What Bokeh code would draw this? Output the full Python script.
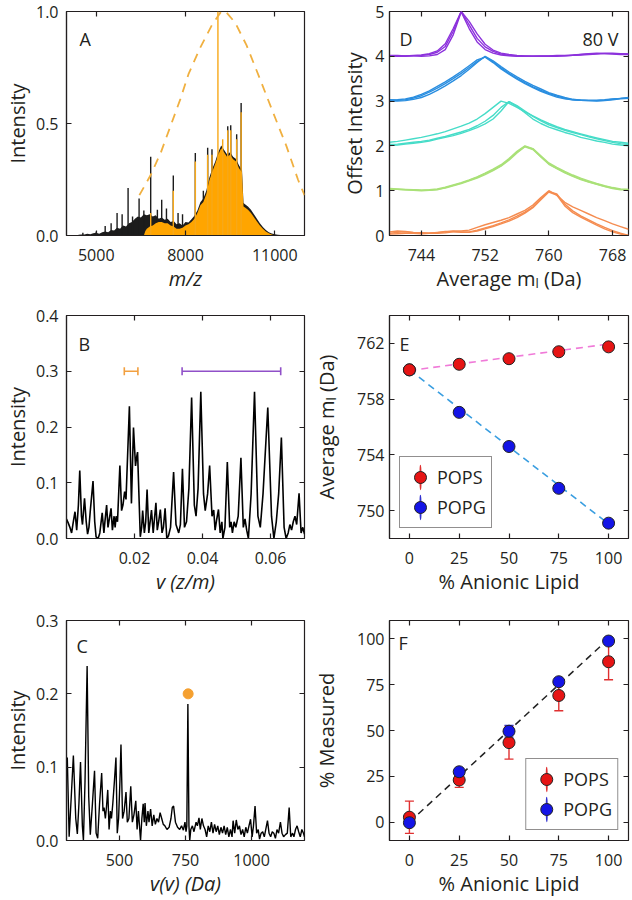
import numpy as np
from bokeh.plotting import figure
from bokeh.layouts import column, row
from bokeh.models import (Range1d, FixedTicker, LinearAxis, Label, Legend, LegendItem,
                          ColumnDataSource, Whisker, TeeHead, CustomJSTickFormatter,
                          PrintfTickFormatter)
from bokeh.embed import file_html
from bokeh.resources import INLINE

FONT = "Open Sans"
TXT = "#231f20"

# ---------------- Panel A: mass spectrum ----------------
a_cont_x = [4400, 4500, 4600, 4700, 4800, 4900, 5000, 5100, 5200, 5300,
            5400, 5500, 5600, 5700, 5800, 5900, 6000, 6100, 6200, 6300,
            6400, 6500, 6600, 6700, 6800, 6900, 7000, 7100, 7200, 7300,
            7400, 7500, 7600, 7700, 7800, 7900, 8000, 8100, 8200, 8300,
            8400, 8500, 8600, 8700, 8800, 8900, 9000, 9100, 9200, 9300,
            9400, 9500, 9600, 9700, 9800, 9900, 9950, 10000, 10100, 10200,
            10300, 10400, 10500, 10600, 10700, 10800, 10900, 11000, 11100, 11200,
            11300]
a_cont_y = [0.003, 0.005, 0.004, 0.008, 0.006, 0.010, 0.012, 0.008, 0.014, 0.018,
            0.015, 0.025, 0.022, 0.035, 0.030, 0.045, 0.040, 0.055, 0.060, 0.075,
            0.085, 0.080, 0.095, 0.090, 0.095, 0.085, 0.090, 0.075, 0.080, 0.070,
            0.075, 0.060, 0.065, 0.050, 0.055, 0.045, 0.060, 0.058, 0.072, 0.088,
            0.112, 0.148, 0.165, 0.200, 0.258, 0.298, 0.330, 0.372, 0.402, 0.382,
            0.362, 0.372, 0.352, 0.342, 0.312, 0.292, 0.145, 0.140, 0.130, 0.115,
            0.095, 0.075, 0.055, 0.038, 0.025, 0.015, 0.009, 0.006, 0.003, 0.002,
            0.001]
a_fill_x = [6600, 6650, 6700, 6800, 6900, 7000, 7100, 7200, 7300, 7400,
            7500, 7600, 7700, 7800, 7900, 8000, 8100, 8200, 8300, 8400,
            8500, 8600, 8700, 8800, 8900, 9000, 9100, 9200, 9300, 9400,
            9500, 9600, 9700, 9800, 9900, 9950, 10000, 10100, 10200, 10300,
            10400, 10500, 10600, 10700, 10800, 10900, 11000]
a_fill_y = [0.000, 0.020, 0.030, 0.040, 0.045, 0.055, 0.060, 0.060, 0.055, 0.055,
            0.045, 0.040, 0.030, 0.030, 0.035, 0.045, 0.050, 0.060, 0.075, 0.100,
            0.135, 0.150, 0.185, 0.245, 0.285, 0.320, 0.360, 0.390, 0.370, 0.350,
            0.360, 0.340, 0.330, 0.300, 0.280, 0.130, 0.125, 0.115, 0.100, 0.082,
            0.062, 0.045, 0.030, 0.018, 0.010, 0.005, 0.000]
a_spk_x = [4550, 5000, 5300, 5500, 5700, 5870, 6070, 6220, 6440, 6600,
           6830, 7055, 7200, 7360, 7590, 7750, 7900, 8330, 8600, 8745,
           8890, 9420, 9520, 9720, 9870]
a_spk_y = [0.012, 0.018, 0.042, 0.055, 0.100, 0.095, 0.212, 0.085, 0.165, 0.112,
           0.352, 0.115, 0.160, 0.120, 0.268, 0.100, 0.095, 0.368, 0.200, 0.392,
           0.385, 0.488, 0.492, 0.452, 0.592]
a_ospk_x = [6830, 7590, 8330, 8745, 8890, 9090, 9250, 9420, 9520, 9720, 9870]
a_ospk_y = [0.10, 0.20, 0.33, 0.36, 0.36, 1.00, 0.43, 0.47, 0.47, 0.43, 0.55]
a_env_x = [6450, 6830, 7170, 7500, 7830, 8100, 8500, 8890, 9200, 9350,
           9670, 10050, 10500, 10940, 11390, 11780, 12000]
a_env_y = [0.18, 0.27, 0.37, 0.49, 0.61, 0.72, 0.84, 0.94, 1.00, 1.00,
           0.95, 0.85, 0.70, 0.55, 0.40, 0.25, 0.18]

# ---------------- Panel B: Fourier spectrum ----------------
b_nu = [0.0000, 0.0005, 0.0010, 0.0015, 0.0020, 0.0025, 0.0030, 0.0035, 0.0039, 0.0044,
        0.0047, 0.0053, 0.0058, 0.0062, 0.0066, 0.0070, 0.0078, 0.0083, 0.0087, 0.0093,
        0.0098, 0.0105, 0.0110, 0.0113, 0.0118, 0.0122, 0.0126, 0.0131, 0.0135, 0.0140,
        0.0143, 0.0146, 0.0150, 0.0157, 0.0162, 0.0166, 0.0171, 0.0175, 0.0185, 0.0191,
        0.0197, 0.0203, 0.0206, 0.0209, 0.0217, 0.0221, 0.0224, 0.0229, 0.0233, 0.0237,
        0.0242, 0.0246, 0.0250, 0.0255, 0.0258, 0.0263, 0.0267, 0.0271, 0.0276, 0.0281,
        0.0285, 0.0290, 0.0295, 0.0300, 0.0306, 0.0315, 0.0322, 0.0330, 0.0335, 0.0341,
        0.0347, 0.0353, 0.0360, 0.0368, 0.0376, 0.0381, 0.0387, 0.0395, 0.0403, 0.0408,
        0.0415, 0.0421, 0.0428, 0.0433, 0.0437, 0.0442, 0.0447, 0.0452, 0.0457, 0.0460,
        0.0466, 0.0473, 0.0480, 0.0484, 0.0488, 0.0493, 0.0498, 0.0505, 0.0513, 0.0520,
        0.0525, 0.0530, 0.0535, 0.0543, 0.0553, 0.0563, 0.0570, 0.0578, 0.0592, 0.0603,
        0.0610, 0.0617, 0.0624, 0.0632, 0.0640, 0.0646, 0.0652, 0.0657, 0.0662, 0.0667,
        0.0672, 0.0677, 0.0684, 0.0690, 0.0695, 0.0700]
b_int = [0.035, 0.028, 0.020, 0.010, 0.030, 0.048, 0.015, 0.060, 0.122, 0.040,
         0.025, 0.072, 0.030, 0.008, 0.020, 0.050, 0.103, 0.030, 0.003, 0.000,
         0.010, 0.046, 0.010, 0.030, 0.060, 0.020, 0.035, 0.054, 0.015, 0.040,
         0.020, 0.040, 0.030, 0.131, 0.050, 0.060, 0.084, 0.070, 0.237, 0.063,
         0.199, 0.130, 0.145, 0.155, 0.003, 0.020, 0.050, 0.010, 0.030, 0.088,
         0.010, 0.030, 0.051, 0.010, 0.030, 0.064, 0.015, 0.030, 0.052, 0.010,
         0.020, 0.054, 0.000, 0.005, 0.020, 0.119, 0.025, 0.010, 0.025, 0.125,
         0.020, 0.030, 0.090, 0.253, 0.060, 0.040, 0.090, 0.263, 0.080, 0.050,
         0.080, 0.131, 0.040, 0.051, 0.015, 0.035, 0.052, 0.010, 0.030, 0.000,
         0.020, 0.137, 0.020, 0.030, 0.010, 0.030, 0.020, 0.040, 0.145, 0.020,
         0.035, 0.015, 0.000, 0.080, 0.263, 0.040, 0.020, 0.080, 0.235, 0.040,
         0.000, 0.030, 0.080, 0.181, 0.020, 0.000, 0.010, 0.025, 0.015, 0.030,
         0.040, 0.025, 0.081, 0.010, 0.020, 0.008]
b_bar_lo = [0.017, 0.034]
b_bar_hi = [0.021, 0.063]
b_bar_y = [0.3, 0.3]
b_bar_colors = ["#f2a040", "#9050c8"]

# ---------------- Panel C: mass-defect spectrum ----------------
c_mass = [300, 303, 310, 318, 326, 335, 341, 347, 353, 360,
          364, 370, 378, 384, 390, 398, 406, 412, 418, 425,
          433, 438, 442, 447, 451, 456, 461, 466, 470, 475,
          481, 487, 492, 497, 502, 506, 512, 518, 525, 530,
          536, 543, 549, 555, 562, 567, 572, 576, 580, 585,
          590, 594, 597, 602, 608, 612, 618, 624, 630, 636,
          642, 648, 654, 660, 666, 672, 680, 688, 695, 700,
          705, 712, 720, 728, 735, 742, 748, 752, 755, 759,
          763, 766, 770, 776, 782, 790, 795, 801, 806, 812,
          818, 824, 830, 836, 842, 848, 854, 860, 866, 872,
          878, 884, 890, 896, 902, 908, 914, 920, 926, 930,
          936, 942, 948, 954, 960, 966, 972, 978, 984, 990,
          996, 1002, 1007, 1013, 1019, 1025, 1030, 1036, 1042, 1048,
          1055, 1060, 1066, 1072, 1078, 1084, 1090, 1096, 1102, 1109,
          1115, 1121, 1128, 1135, 1142, 1148, 1155, 1160, 1166, 1172,
          1178, 1184, 1190, 1196, 1200]
c_int = [0.105, 0.113, 0.005, 0.060, 0.116, 0.030, 0.009, 0.050, 0.107, 0.020,
         0.000, 0.080, 0.238, 0.060, 0.008, 0.050, 0.095, 0.010, 0.003, 0.050,
         0.092, 0.040, 0.045, 0.030, 0.045, 0.069, 0.015, 0.040, 0.030, 0.050,
         0.080, 0.113, 0.010, 0.030, 0.080, 0.131, 0.030, 0.040, 0.066, 0.025,
         0.030, 0.074, 0.025, 0.035, 0.054, 0.015, 0.040, 0.020, 0.000, 0.030,
         0.050, 0.025, 0.051, 0.020, 0.040, 0.025, 0.043, 0.020, 0.035, 0.022,
         0.030, 0.025, 0.038, 0.030, 0.022, 0.020, 0.015, 0.018, 0.030, 0.045,
         0.047, 0.025, 0.018, 0.015, 0.020, 0.014, 0.025, 0.012, 0.020, 0.186,
         0.020, 0.000, 0.015, 0.020, 0.012, 0.025, 0.020, 0.031, 0.015, 0.030,
         0.020, 0.015, 0.005, 0.020, 0.012, 0.025, 0.010, 0.022, 0.012, 0.020,
         0.008, 0.018, 0.010, 0.020, 0.008, 0.018, 0.005, 0.015, 0.005, 0.027,
         0.010, 0.028, 0.015, 0.020, 0.008, 0.015, 0.005, 0.018, 0.010, 0.020,
         0.029, 0.005, 0.020, 0.047, 0.010, 0.015, 0.002, 0.010, 0.012, 0.005,
         0.018, 0.027, 0.010, 0.005, 0.012, 0.010, 0.003, 0.015, 0.010, 0.025,
         0.010, 0.005, 0.008, 0.010, 0.045, 0.005, 0.010, 0.005, 0.015, 0.020,
         0.012, 0.005, 0.015, 0.010, 0.005]
c_mark_x = [760]
c_mark_y = [0.2]

# ---------------- Panel D: lipid mass distributions ----------------
d_mass = list(range(740, 771))
d_offsets = [0, 1, 2, 3, 4]
d_colors = ["#f58c50", "#aae178", "#46dcc8", "#2a8ee0", "#8c32dc"]
d_orange = [
    [0.05, 0.07, 0.08, 0.06, 0.05, 0.05, 0.06, 0.08, 0.10, 0.10, 0.12,
     0.18, 0.24, 0.29, 0.34, 0.40, 0.48, 0.56, 0.68, 0.85, 1.00,
     0.90, 0.74, 0.64, 0.56, 0.48, 0.40, 0.33, 0.26, 0.20, 0.14],
    [0.08, 0.10, 0.09, 0.07, 0.06, 0.05, 0.05, 0.06, 0.08, 0.08, 0.08,
     0.12, 0.17, 0.22, 0.28, 0.35, 0.43, 0.52, 0.64, 0.82, 0.98,
     0.93, 0.70, 0.55, 0.44, 0.35, 0.26, 0.18, 0.11, 0.05, 0.00],
    [0.03, 0.04, 0.05, 0.05, 0.04, 0.05, 0.07, 0.09, 0.09, 0.07, 0.07,
     0.10, 0.15, 0.20, 0.26, 0.32, 0.40, 0.50, 0.62, 0.80, 0.97,
     0.90, 0.66, 0.51, 0.41, 0.32, 0.23, 0.15, 0.08, 0.03, 0.00]]
d_green = [
    [0.04, 0.03, 0.02, 0.01, 0.00, 0.01, 0.02, 0.07, 0.12, 0.17, 0.23,
     0.30, 0.38, 0.46, 0.56, 0.70, 0.86, 0.99, 0.93, 0.76, 0.60,
     0.50, 0.41, 0.33, 0.26, 0.20, 0.15, 0.10, 0.06, 0.03, 0.02],
    [0.05, 0.04, 0.03, 0.02, 0.01, 0.02, 0.04, 0.08, 0.13, 0.18, 0.24,
     0.31, 0.39, 0.48, 0.58, 0.72, 0.88, 1.00, 0.94, 0.78, 0.62,
     0.52, 0.43, 0.35, 0.28, 0.22, 0.16, 0.11, 0.07, 0.04, 0.03],
    [0.03, 0.03, 0.02, 0.02, 0.01, 0.01, 0.03, 0.06, 0.11, 0.16, 0.22,
     0.28, 0.36, 0.45, 0.55, 0.68, 0.84, 0.98, 0.92, 0.75, 0.59,
     0.49, 0.40, 0.32, 0.25, 0.19, 0.14, 0.09, 0.05, 0.02, 0.03]]
d_turq = [
    [0.08, 0.10, 0.13, 0.16, 0.19, 0.23, 0.27, 0.32, 0.38, 0.44, 0.51,
     0.60, 0.72, 0.86, 1.00, 0.95, 0.86, 0.76, 0.67, 0.58, 0.50,
     0.43, 0.37, 0.32, 0.27, 0.22, 0.18, 0.14, 0.10, 0.08, 0.06],
    [0.01, 0.02, 0.04, 0.06, 0.08, 0.11, 0.15, 0.19, 0.23, 0.28, 0.34,
     0.41, 0.49, 0.60, 0.78, 0.99, 0.88, 0.74, 0.60, 0.50, 0.42,
     0.36, 0.30, 0.25, 0.19, 0.15, 0.11, 0.08, 0.04, 0.02, 0.00],
    [0.03, 0.04, 0.06, 0.08, 0.10, 0.13, 0.17, 0.21, 0.26, 0.31, 0.37,
     0.45, 0.55, 0.68, 0.86, 0.99, 0.90, 0.78, 0.66, 0.56, 0.47,
     0.41, 0.35, 0.30, 0.25, 0.20, 0.16, 0.12, 0.08, 0.05, 0.03]]
d_blue = [
    [0.03, 0.02, 0.03, 0.07, 0.12, 0.20, 0.29, 0.39, 0.50, 0.62, 0.75,
     0.88, 0.99, 0.88, 0.74, 0.62, 0.51, 0.41, 0.32, 0.24, 0.17,
     0.11, 0.06, 0.03, 0.02, 0.01, 0.01, 0.02, 0.04, 0.06, 0.07],
    [0.00, 0.00, 0.01, 0.04, 0.08, 0.15, 0.24, 0.34, 0.45, 0.57, 0.71,
     0.86, 1.00, 0.90, 0.77, 0.65, 0.54, 0.44, 0.35, 0.27, 0.19,
     0.13, 0.08, 0.04, 0.02, 0.01, 0.00, 0.01, 0.03, 0.05, 0.06],
    [0.02, 0.03, 0.05, 0.09, 0.15, 0.23, 0.33, 0.43, 0.54, 0.66, 0.79,
     0.92, 0.98, 0.86, 0.72, 0.60, 0.49, 0.39, 0.30, 0.22, 0.15,
     0.09, 0.05, 0.03, 0.02, 0.02, 0.02, 0.03, 0.05, 0.06, 0.08]]
d_purple = [
    [0.00, 0.00, 0.01, 0.02, 0.03, 0.06, 0.12, 0.28, 0.62, 1.00, 0.78,
     0.50, 0.27, 0.14, 0.07, 0.04, 0.02, 0.01, 0.00, 0.00, 0.00,
     0.00, 0.01, 0.02, 0.04, 0.06, 0.07, 0.06, 0.05, 0.04, 0.04],
    [0.02, 0.02, 0.01, 0.01, 0.00, 0.01, 0.04, 0.15, 0.48, 0.99, 0.62,
     0.32, 0.15, 0.07, 0.03, 0.01, 0.00, 0.00, 0.00, 0.01, 0.01,
     0.02, 0.02, 0.03, 0.04, 0.05, 0.06, 0.07, 0.07, 0.06, 0.05],
    [0.00, 0.00, 0.00, 0.01, 0.02, 0.04, 0.09, 0.22, 0.56, 1.00, 0.70,
     0.40, 0.21, 0.11, 0.05, 0.02, 0.01, 0.00, 0.00, 0.00, 0.00,
     0.01, 0.01, 0.02, 0.03, 0.04, 0.05, 0.06, 0.06, 0.05, 0.05]]
d_groups = [d_orange, d_green, d_turq, d_blue, d_purple]

# ---------------- Panel E: average mass vs anionic lipid ----------------
e_lipid = [0, 25, 50, 75, 100]
e_pops = [760.1, 760.5, 760.9, 761.4, 761.75]
e_pops_err = [0.12, 0.10, 0.10, 0.10, 0.12]
e_popg = [760.1, 757.05, 754.6, 751.6, 749.1]
e_popg_err = [0.12, 0.12, 0.15, 0.12, 0.12]
e_fit_x = [0, 100]
e_pops_fit = [760.05, 761.95]
e_popg_fit = [760.1, 749.05]

# ---------------- Panel F: measured vs expected ----------------
f_lipid = [0, 25, 50, 75, 100]
f_pops = [2.7, 23.0, 43.4, 69.1, 87.5]
f_pops_err = [8.8, 4.0, 9.0, 8.3, 9.8]
f_popg = [-0.3, 27.5, 49.6, 76.6, 98.8]
f_popg_err = [1.5, 1.5, 3.2, 1.5, 1.5]
f_ideal = [0, 100]

# ---------------- layout constants ----------------
COLS = [(310, 65, 6), (320, 79, 2)]          # width, border left, border right
ROWS = [(295, 11, 60), (305, 20, 62), (299, 20, 56)]  # height, border top, border bottom
FW = 239


def mkfig(xr, yr, col, r):
    h, bt, bb = ROWS[r]
    w, bl, br = COLS[col]
    p = figure(width=w, height=h, x_range=Range1d(*xr), y_range=Range1d(*yr),
               output_backend="svg", toolbar_location=None,
               min_border_left=bl, min_border_right=br,
               min_border_top=bt, min_border_bottom=bb)
    p.xgrid.visible = False
    p.ygrid.visible = False
    p.outline_line_color = TXT
    p.outline_line_width = 1.2
    p.background_fill_color = "white"
    p.border_fill_color = "white"
    return p


def frame_h(r):
    h, bt, bb = ROWS[r]
    return h - bt - bb


def axes(p, xticks, yticks, xlabel=None, ylabel=None, xstyle="normal",
         ystand=8, ylabstand=2, xlabstand=1, xfmt=None, yfmt=None):
    for ax, t in ((p.xaxis[0], xticks), (p.yaxis[0], yticks)):
        ax.ticker = FixedTicker(ticks=t)
        ax.major_tick_in = 5
        ax.major_tick_out = 0
        ax.minor_tick_line_color = None
        ax.axis_line_color = TXT
        ax.axis_line_width = 1.2
        ax.major_tick_line_color = TXT
        ax.major_tick_line_width = 1.2
        ax.major_label_text_font = FONT
        ax.major_label_text_font_size = "16px"
        ax.major_label_text_color = TXT
        ax.axis_label_text_font = FONT
        ax.axis_label_text_font_size = "20px"
        ax.axis_label_text_color = TXT
    if xfmt:
        p.xaxis[0].formatter = PrintfTickFormatter(format=xfmt)
    if yfmt:
        p.yaxis[0].formatter = PrintfTickFormatter(format=yfmt)
    p.xaxis[0].major_label_standoff = 13
    p.yaxis[0].major_label_standoff = ystand
    p.xaxis[0].axis_label = xlabel
    p.xaxis[0].axis_label_text_font_style = xstyle
    p.xaxis[0].axis_label_standoff = xlabstand
    p.yaxis[0].axis_label = ylabel
    p.yaxis[0].axis_label_text_font_style = "normal"
    p.yaxis[0].axis_label_standoff = ylabstand
    for t, side in ((xticks, "above"), (yticks, "right")):
        m = LinearAxis(ticker=FixedTicker(ticks=t),
                       formatter=CustomJSTickFormatter(code="return ''"),
                       major_label_text_font_size="1px", major_label_standoff=0,
                       major_tick_in=5, major_tick_out=0, major_tick_line_width=1.2,
                       minor_tick_line_color=None, axis_line_color=None,
                       major_tick_line_color=TXT)
        p.add_layout(m, side)


def tag(p, r, text, x, below_top, align="left", size=18):
    p.add_layout(Label(x=x, y=frame_h(r) - below_top, x_units="screen", y_units="screen",
                       text=text, text_font=FONT, text_font_size=f"{size}px",
                       text_color=TXT, text_align=align, text_baseline="alphabetic"))


def errbars(p, x, y, err, col):
    lo = [v - e for v, e in zip(y, err)]
    hi = [v + e for v, e in zip(y, err)]
    src = ColumnDataSource(dict(base=x, lower=lo, upper=hi))
    p.add_layout(Whisker(source=src, base="base", lower="lower", upper="upper",
                         dimension="height", line_color=col, line_width=1.4,
                         upper_head=TeeHead(size=9, line_color=col, line_width=1.4),
                         lower_head=TeeHead(size=9, line_color=col, line_width=1.4)))


def legend(p, r_pops, r_popg, loc):
    # thin, tall ellipses (never drawn in the plot) give a vertical error-bar legend icon
    bar1 = p.ellipse(x=[np.nan], y=[np.nan], width=1, height=30, width_units="screen",
                     height_units="screen", fill_color=None, line_color="#e03030", line_width=1.3)
    bar2 = p.ellipse(x=[np.nan], y=[np.nan], width=1, height=30, width_units="screen",
                     height_units="screen", fill_color=None, line_color="#3030d0", line_width=1.3)
    leg = Legend(items=[LegendItem(label="POPS", renderers=[bar1, r_pops]),
                        LegendItem(label="POPG", renderers=[bar2, r_popg])],
                 location=loc, glyph_width=30, glyph_height=30, label_standoff=2,
                 padding=5, spacing=0, margin=10,
                 label_text_font=FONT, label_text_font_size="18px",
                 label_text_color=TXT, border_line_color=TXT,
                 border_line_width=1.3, background_fill_alpha=1.0)
    p.add_layout(leg)


# ---------------- Panel A ----------------
pA = mkfig((4000, 12000), (0, 1.0), 0, 0)
axes(pA, [5000, 8000, 11000], [0, 0.5, 1.0], xlabel="m/z", ylabel="Intensity",
     xstyle="italic", yfmt="%.1f")
pA.varea(x=a_cont_x, y1=0, y2=a_cont_y, fill_color="#1c1c1c")
pA.segment(x0=a_spk_x, y0=0, x1=a_spk_x, y1=a_spk_y, line_color="#1c1c1c", line_width=1.4)
pA.varea(x=a_fill_x, y1=0, y2=a_fill_y, fill_color="#ffa500")
pA.segment(x0=a_ospk_x, y0=0, x1=a_ospk_x, y1=a_ospk_y, line_color="#f7a818", line_width=1.4)
pA.line(a_env_x, a_env_y, line_color="#f0b040", line_dash="9 7", line_width=1.8)
tag(pA, 0, "A", 13, 27)

# ---------------- Panel B ----------------
pB = mkfig((0, 0.07), (0, 0.4), 0, 1)
axes(pB, [0.02, 0.04, 0.06], [0, 0.1, 0.2, 0.3, 0.4], xlabel="v (z/m)",
     ylabel="Intensity", xstyle="italic", xfmt="%.2f", yfmt="%.1f")
pB.line(b_nu, b_int, line_color="black", line_width=1.6)
for lo, hi, yv, col in zip(b_bar_lo, b_bar_hi, b_bar_y, b_bar_colors):
    src = ColumnDataSource(dict(base=[yv], lower=[lo], upper=[hi]))
    pB.add_layout(Whisker(source=src, base="base", lower="lower", upper="upper",
                          dimension="width", line_color=col, line_width=1.6,
                          upper_head=TeeHead(size=8, line_color=col, line_width=1.6),
                          lower_head=TeeHead(size=8, line_color=col, line_width=1.6),
                          level="overlay"))
tag(pB, 1, "B", 12, 28)

# ---------------- Panel C ----------------
pC = mkfig((300, 1200), (0, 0.3), 0, 2)
axes(pC, [500, 750, 1000], [0, 0.1, 0.2, 0.3], xlabel="v(v) (Da)", ylabel="Intensity",
     xstyle="italic", yfmt="%.1f")
pC.line(c_mass, c_int, line_color="black", line_width=1.4)
pC.scatter(c_mark_x, c_mark_y, size=10, fill_color="#f5a030", line_color="#f5a030")
tag(pC, 2, "C", 10, 28)

# ---------------- Panel D ----------------
pD = mkfig((740, 770), (0, 5), 1, 0)
axes(pD, [744, 752, 760, 768], [0, 1, 2, 3, 4, 5], xlabel="Average m\u2097 (Da)",
     ylabel="Offset Intensity", ystand=5, ylabstand=4)
for off, col, reps in zip(d_offsets, d_colors, d_groups):
    for rep in reps:
        pD.line(d_mass, np.array(rep) + off, line_color=col, line_width=1.4)
tag(pD, 0, "D", 10, 27)
tag(pD, 0, "80 V", FW - 10, 27, align="right")

# ---------------- Panel E ----------------
pE = mkfig((-10, 110), (748, 764), 1, 1)
axes(pE, [0, 25, 50, 75, 100], [750, 754, 758, 762], xlabel="% Anionic Lipid",
     ylabel="Average m\u2097 (Da)", ystand=5, ylabstand=14)
pE.line(e_fit_x, e_pops_fit, line_color="#f07ad8", line_dash="7 5", line_width=1.6)
pE.line(e_fit_x, e_popg_fit, line_color="#3a9ee0", line_dash="7 5", line_width=1.6)
errbars(pE, e_lipid, e_popg, e_popg_err, "#3030d0")
errbars(pE, e_lipid, e_pops, e_pops_err, "#e03030")
rg = pE.scatter(e_lipid, e_popg, size=12, fill_color="#1414e6", line_color="#222222", line_width=1)
rs = pE.scatter(e_lipid, e_pops, size=12, fill_color="#e61414", line_color="#222222", line_width=1)
legend(pE, rs, rg, "bottom_left")
tag(pE, 1, "E", 10, 28)

# ---------------- Panel F ----------------
pF = mkfig((-10, 110), (-10, 110), 1, 2)
axes(pF, [0, 25, 50, 75, 100], [0, 25, 50, 75, 100], xlabel="% Anionic Lipid",
     ylabel="% Measured", ystand=5, ylabstand=14)
pF.line(f_ideal, f_ideal, line_color="#222222", line_dash="7 5", line_width=1.5)
errbars(pF, f_lipid, f_pops, f_pops_err, "#e03030")
errbars(pF, f_lipid, f_popg, f_popg_err, "#3030d0")
rs2 = pF.scatter(f_lipid, f_pops, size=12, fill_color="#e61414", line_color="#222222", line_width=1)
rg2 = pF.scatter(f_lipid, f_popg, size=12, fill_color="#1414e6", line_color="#222222", line_width=1)
legend(pF, rs2, rg2, "bottom_right")
tag(pF, 2, "F", 9, 25)

layout = column(row(pA, pD), row(pB, pE), row(pC, pF))
open("out.html", "w").write(file_html(layout, INLINE))
